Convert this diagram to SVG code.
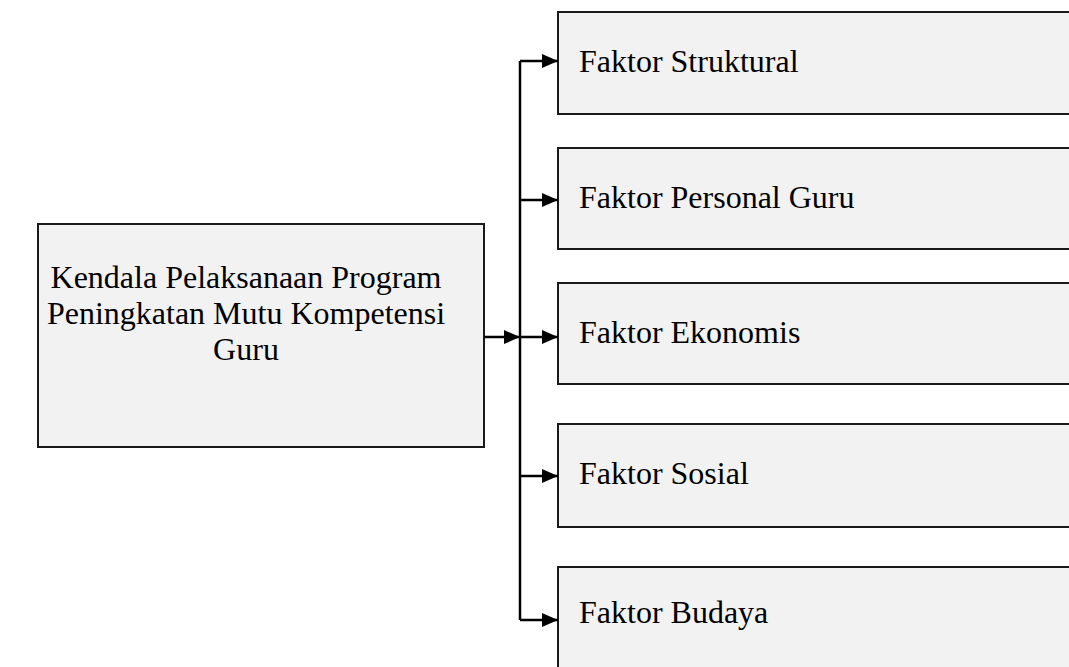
<svg xmlns="http://www.w3.org/2000/svg" width="1069" height="667" viewBox="0 0 1069 667">
<defs>
<style>
.box{fill:#f2f2f2;stroke:#1a1a1a;stroke-width:2}
.t{font-family:"Liberation Serif","Times New Roman",serif;font-size:32px;fill:#000}
.ln{fill:none;stroke:#000;stroke-width:2.5}
</style>
<marker id="ah" markerWidth="16" markerHeight="14" refX="16" refY="7" orient="auto" markerUnits="userSpaceOnUse">
<path d="M0,0 L16,7 L0,14 Z" fill="#000"/>
</marker>
</defs>
<rect width="1069" height="667" fill="#fff"/>
<g id="main">
<rect class="box" x="38" y="224" width="446" height="223"/>
<text class="t" x="246" y="288" text-anchor="middle">Kendala Pelaksanaan Program</text>
<text class="t" x="246" y="324" text-anchor="middle">Peningkatan Mutu Kompetensi</text>
<text class="t" x="246" y="360" text-anchor="middle">Guru</text>
</g>
<g id="n1">
<rect class="box" x="558" y="12" width="520" height="102"/>
<text class="t" x="579" y="72">Faktor Struktural</text>
</g>
<g id="n2">
<rect class="box" x="558" y="148" width="520" height="101"/>
<text class="t" x="579" y="208">Faktor Personal Guru</text>
</g>
<g id="n3">
<rect class="box" x="558" y="283" width="520" height="101"/>
<text class="t" x="579" y="343">Faktor Ekonomis</text>
</g>
<g id="n4">
<rect class="box" x="558" y="424" width="520" height="103"/>
<text class="t" x="579" y="484">Faktor Sosial</text>
</g>
<g id="n5">
<rect class="box" x="558" y="567" width="520" height="120"/>
<text class="t" x="579" y="623">Faktor Budaya</text>
</g>
<g id="connectors">
<path class="ln" d="M520,620 L520,61"/>
<path class="ln" d="M484,337 L520,337" marker-end="url(#ah)"/>
<path class="ln" d="M520,61 L558,61" marker-end="url(#ah)"/>
<path class="ln" d="M520,200 L558,200" marker-end="url(#ah)"/>
<path class="ln" d="M520,337 L558,337" marker-end="url(#ah)"/>
<path class="ln" d="M520,476 L558,476" marker-end="url(#ah)"/>
<path class="ln" d="M520,620 L558,620" marker-end="url(#ah)"/>
</g>
</svg>
